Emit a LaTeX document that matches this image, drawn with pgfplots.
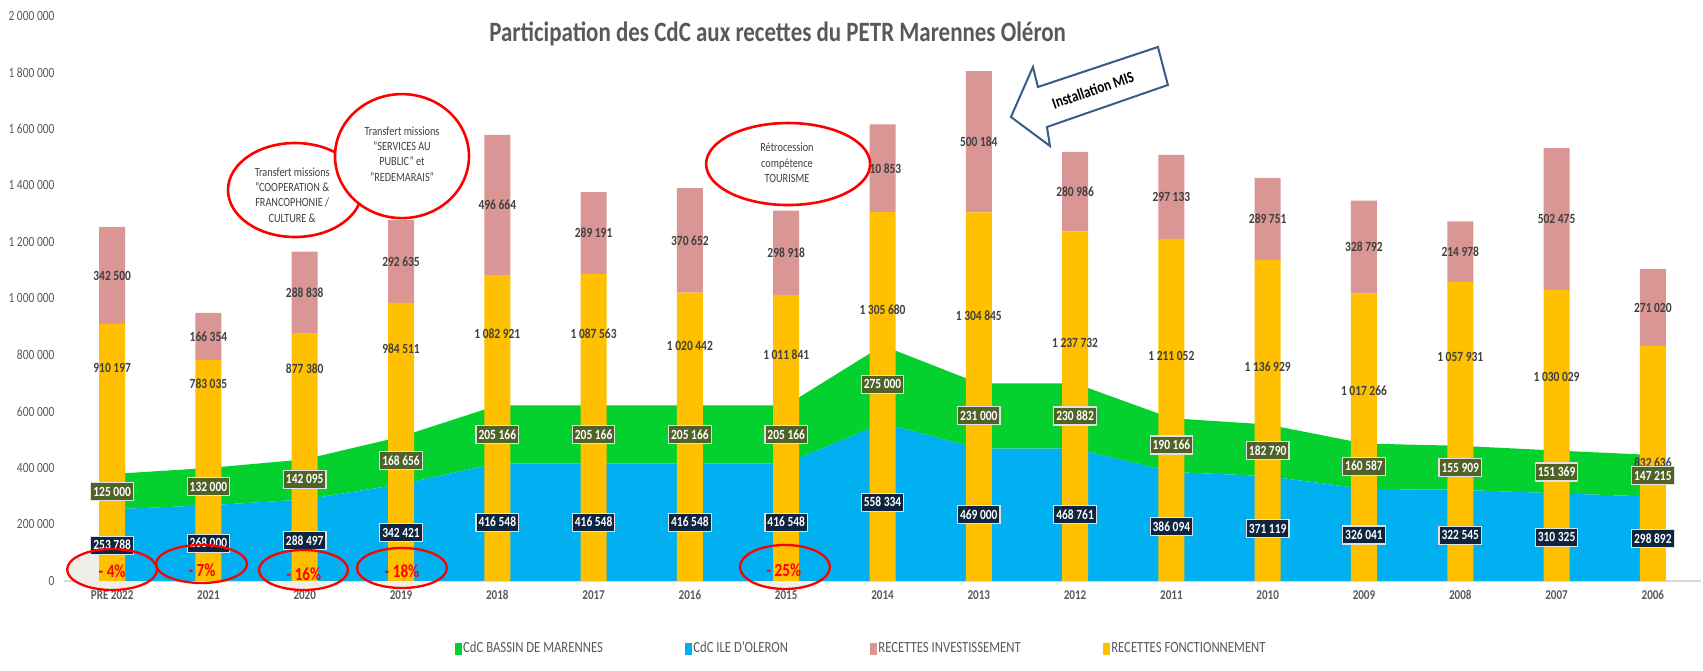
\documentclass[border=0pt]{standalone}
\usepackage{fontspec}
\setmainfont{Carlito}[FakeStretch=0.82]
\usepackage{pgfplots}
\usepackage{pgfplotstable}
\pgfplotsset{compat=1.18}

\definecolor{cYel}{HTML}{FFC000}
\definecolor{cPink}{HTML}{D99694}
\definecolor{cBlue}{HTML}{00B0F0}
\definecolor{cGreen}{HTML}{04D12D}
\definecolor{cNavy}{HTML}{0F243E}
\definecolor{cOlive}{HTML}{4F6228}
\definecolor{cLbl}{HTML}{404040}
\definecolor{cTick}{HTML}{595959}
\definecolor{cArrow}{HTML}{385D8A}
\definecolor{cShade}{HTML}{EFEFEA}

% x: 0 = PRE 2022 ... 16 = 2006
\pgfplotstableread{
x  fonc    inv    oleron marennes
0  910197  342500 253788 125000
1  783035  166354 268000 132000
2  877380  288838 288497 142095
3  984511  292635 342421 168656
4  1082921 496664 416548 205166
5  1087563 289191 416548 205166
6  1020442 370652 416548 205166
7  1011841 298918 416548 205166
8  1305680 310853 558334 275000
9  1304845 500184 469000 231000
10 1237732 280986 468761 230882
11 1211052 297133 386094 190166
12 1136929 289751 371119 182790
13 1017266 328792 326041 160587
14 1057931 214978 322545 155909
15 1030029 502475 310325 151369
16 832636  271020 298892 147215
}\data

\tikzset{
  vlbl/.style={font=\bfseries\fontsize{14}{16}\selectfont, text=cLbl},
  bbox/.style={font=\bfseries\fontsize{14}{16}\selectfont, text=white, fill=cNavy,
    draw=black!12, line width=1.2pt, inner xsep=2.5pt, inner ysep=0pt, minimum height=18pt},
  gbox/.style={bbox, fill=cOlive},
  pct/.style={font=\bfseries\fontsize{18.5}{20}\selectfont, text=red},
  note/.style={font=\fontsize{12.5}{15.3}\selectfont, text=cLbl, align=center},
  ring/.style={red, line width=2.3pt},
  bigring/.style={fill=white, draw=red, line width=2.6pt},
}
\newcommand{\vl}[3]{\node[vlbl] at (axis cs:#1,#2) {#3};}
\newcommand{\bl}[3]{\node[bbox] at (axis cs:#1,#2) {#3};}
\newcommand{\gl}[3]{\node[gbox] at (axis cs:#1,#2) {#3};}

\pgfplotsset{
  petr/.style={
    at={(64pt,90pt)}, anchor=south west, scale only axis,
    width=1637pt, height=565pt,
    xmin=-0.5, xmax=16.5, ymin=0, ymax=2000000,
    clip=false,
  },
  over/.style={petr, hide axis},
}

\begin{document}
\begin{tikzpicture}
\useasboundingbox (0,0) rectangle (1703pt,671pt);

% shaded ellipses behind everything, and the base line
\begin{axis}[petr, axis y line=none, axis x line=bottom,
    x axis line style={-, draw=black!15, line width=1.5pt},
    xtick=\empty, ytick=\empty]
  \fill[cShade] (axis cs:0,40700) ellipse [x radius=45pt, y radius=20.5pt];
  \fill[cShade] (axis cs:0.928,60200) ellipse [x radius=45.5pt, y radius=19pt];
  \fill[cShade] (axis cs:1.987,38900) ellipse [x radius=44.5pt, y radius=20pt];
  \fill[cShade] (axis cs:3.01,46000) ellipse [x radius=45pt, y radius=20pt];
  \fill[cShade] (axis cs:6.987,49600) ellipse [x radius=45pt, y radius=22pt];
\end{axis}

% stacked areas
\begin{axis}[over, stack plots=y]
  \addplot[fill=cBlue, draw=none] table[x=x, y=oleron] {\data} \closedcycle;
  \addplot[fill=cGreen, draw=none] table[x=x, y=marennes] {\data} \closedcycle;
\end{axis}

% stacked bars, ticks, legend, title
\begin{axis}[petr, ybar stacked, bar width=26pt,
    axis line style={draw=none}, tick style={draw=none},
    xtick={0,1,2,3,4,5,6,7,8,9,10,11,12,13,14,15,16},
    xticklabels={PRE 2022,2021,2020,2019,2018,2017,2016,2015,2014,2013,2012,2011,2010,2009,2008,2007,2006},
    xticklabel style={font=\bfseries\fontsize{13.5}{15}\selectfont, text=cTick, yshift=-6pt},
    ytick={0,200000,400000,600000,800000,1000000,1200000,1400000,1600000,1800000,2000000},
    yticklabels={0,200 000,400 000,600 000,800 000,1 000 000,1 200 000,1 400 000,1 600 000,1 800 000,2 000 000},
    yticklabel style={font=\fontsize{14}{16}\selectfont, text=cTick, xshift=-6pt},
    legend columns=4,
    legend style={at={(0.487,-0.119)}, anchor=center, draw=none, fill=none,
      font=\fontsize{15.5}{17}\selectfont, text=cTick,
      /tikz/every even column/.append style={column sep=80pt}},
    legend cell align=left,
  ]
  \addlegendimage{legend image code/.code={\fill[cGreen] (0pt,-5.5pt) rectangle (6pt,5.5pt);}}
  \addlegendentry{CdC BASSIN DE MARENNES}
  \addlegendimage{legend image code/.code={\fill[cBlue] (0pt,-5.5pt) rectangle (6pt,5.5pt);}}
  \addlegendentry{CdC ILE D'OLERON}
  \addlegendimage{legend image code/.code={\fill[cPink] (0pt,-5.5pt) rectangle (6pt,5.5pt);}}
  \addlegendentry{RECETTES INVESTISSEMENT}
  \addlegendimage{legend image code/.code={\fill[cYel] (0pt,-5.5pt) rectangle (6pt,5.5pt);}}
  \addlegendentry{RECETTES FONCTIONNEMENT}

  \addplot[fill=cYel, draw=none] table[x=x, y=fonc] {\data};
  \addplot[fill=cPink, draw=none] table[x=x, y=inv] {\data};

  \node[font=\bfseries\fontsize{28}{30}\selectfont, text=cTick]
    at (axis description cs:0.436,0.968) {Participation des CdC aux recettes du PETR Marennes Oléron};
\end{axis}

% value labels and percentages
\begin{axis}[over]
  \vl{0}{1081447}{342 500}  \vl{1}{866212}{166 354}   \vl{2}{1021799}{288 838}
  \vl{3}{1130829}{292 635}  \vl{4}{1331253}{496 664}  \vl{5}{1232159}{289 191}
  \vl{6}{1205768}{370 652}  \vl{7}{1161300}{298 918}  \vl{8}{1461107}{310 853}
  \vl{9}{1554937}{500 184}  \vl{10}{1378225}{280 986} \vl{11}{1359619}{297 133}
  \vl{12}{1281805}{289 751} \vl{13}{1181662}{328 792} \vl{14}{1165420}{214 978}
  \vl{15}{1281267}{502 475} \vl{16}{968146}{271 020}

  \vl{0}{754000}{910 197}    \vl{1}{697000}{783 035}    \vl{2}{750000}{877 380}
  \vl{3}{821000}{984 511}    \vl{4}{874000}{1 082 921}  \vl{5}{874000}{1 087 563}
  \vl{6}{832000}{1 020 442}  \vl{7}{800000}{1 011 841}  \vl{8}{959000}{1 305 680}
  \vl{9}{938000}{1 304 845}  \vl{10}{842000}{1 237 732} \vl{11}{797000}{1 211 052}
  \vl{12}{757000}{1 136 929} \vl{13}{673000}{1 017 266} \vl{14}{793000}{1 057 931}
  \vl{15}{722000}{1 030 029} \vl{16}{418000}{832 636}

  \gl{0}{316288}{125 000}  \gl{1}{334000}{132 000}  \gl{2}{359545}{142 095}
  \gl{3}{426749}{168 656}  \gl{4}{519131}{205 166}  \gl{5}{519131}{205 166}
  \gl{6}{519131}{205 166}  \gl{7}{519131}{205 166}  \gl{8}{695834}{275 000}
  \gl{9}{584500}{231 000}  \gl{10}{584202}{230 882} \gl{11}{481177}{190 166}
  \gl{12}{462514}{182 790} \gl{13}{406335}{160 587} \gl{14}{400500}{155 909}
  \gl{15}{386010}{151 369} \gl{16}{372500}{147 215}

  \bl{0}{126894}{253 788}  \bl{1}{134000}{268 000}  \bl{2}{144249}{288 497}
  \bl{3}{171211}{342 421}  \bl{4}{208274}{416 548}  \bl{5}{208274}{416 548}
  \bl{6}{208274}{416 548}  \bl{7}{208274}{416 548}  \bl{8}{279167}{558 334}
  \bl{9}{234500}{469 000}  \bl{10}{234381}{468 761} \bl{11}{193047}{386 094}
  \bl{12}{185560}{371 119} \bl{13}{163021}{326 041} \bl{14}{161273}{322 545}
  \bl{15}{155163}{310 325} \bl{16}{149446}{298 892}

  \node[pct] at (axis cs:0,35400) {- 4\%};
  \node[pct] at (axis cs:0.933,39000) {- 7\%};
  \node[pct] at (axis cs:1.992,23000) {- 16\%};
  \node[pct] at (axis cs:3.01,33600) {- 18\%};
  \node[pct] at (axis cs:6.975,39000) {- 25\%};
\end{axis}

% rings, note ellipses, arrow callout
\begin{axis}[over]
  \draw[ring] (axis cs:0,40700) ellipse [x radius=45pt, y radius=20.5pt];
  \draw[ring] (axis cs:0.928,60200) ellipse [x radius=45.5pt, y radius=19pt];
  \draw[ring] (axis cs:1.987,38900) ellipse [x radius=44.5pt, y radius=20pt];
  \draw[ring] (axis cs:3.01,46000) ellipse [x radius=45pt, y radius=20pt];
  \draw[ring] (axis cs:6.987,49600) ellipse [x radius=45pt, y radius=22pt];

  \filldraw[bigring] (axis cs:1.899,1384000) ellipse [x radius=67pt, y radius=47pt];
  \filldraw[bigring] (axis cs:3.010,1504000) ellipse [x radius=67pt, y radius=62pt];
  \filldraw[bigring] (axis cs:7.02,1476000) ellipse [x radius=82pt, y radius=41pt];

  \filldraw[fill=white, draw=cArrow, line width=2pt, line join=miter]
    (axis cs:9.334,1642500) -- (axis cs:9.562,1819500) -- (axis cs:9.614,1748700)
    -- (axis cs:10.860,1890300) -- (axis cs:10.964,1755800) -- (axis cs:9.708,1607100)
    -- (axis cs:9.739,1539800) -- cycle;
\end{axis}

% texts of the notes
\begin{axis}[over]
  \node[note] at (axis cs:1.870,1366000) {Transfert missions\\"COOPERATION \&\\FRANCOPHONIE /\\CULTURE \&};
  \node[note] at (axis cs:3.010,1512000) {Transfert missions\\"SERVICES AU\\PUBLIC" et\\"REDEMARAIS"};
  \node[note] at (axis cs:7.008,1480000) {Rétrocession\\compétence\\TOURISME};
  \node[font=\bfseries\fontsize{16}{18}\selectfont, text=black, rotate=19]
    at (axis cs:10.185,1738000) {Installation MIS};
\end{axis}
\end{tikzpicture}
\end{document}
